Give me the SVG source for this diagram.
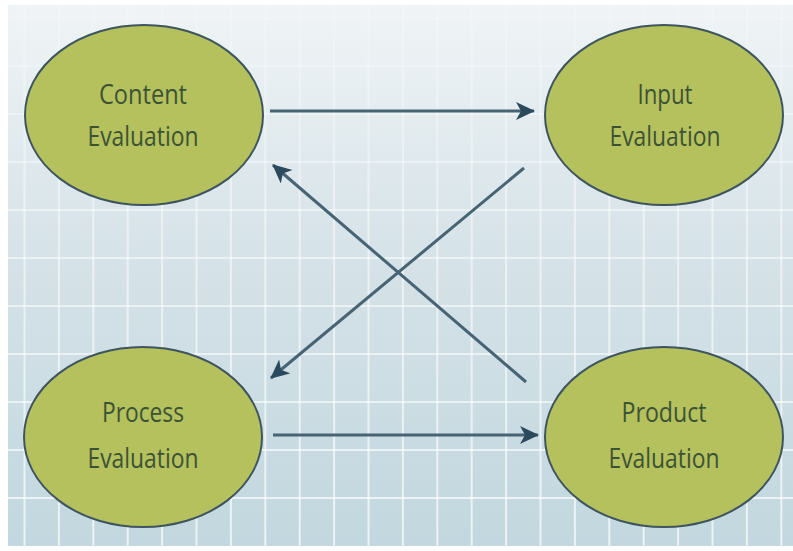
<svg xmlns="http://www.w3.org/2000/svg" width="793" height="551" viewBox="0 0 793 551">
<defs>
<linearGradient id="bg" x1="0" y1="0" x2="0" y2="1">
<stop offset="0" stop-color="#f0f4f6"/>
<stop offset="0.45" stop-color="#d6e3e8"/>
<stop offset="1" stop-color="#c2d7df"/>
</linearGradient>
<linearGradient id="gridfade" gradientUnits="userSpaceOnUse" x1="0" y1="0" x2="0" y2="551">
<stop offset="0" stop-color="#ffffff" stop-opacity="0.15"/>
<stop offset="0.4" stop-color="#ffffff" stop-opacity="0.5"/>
<stop offset="1" stop-color="#ffffff" stop-opacity="0.7"/>
</linearGradient>
<marker id="arr" markerUnits="userSpaceOnUse" markerWidth="20" markerHeight="20" refX="18" refY="9" orient="auto">
<path d="M0,0 L19,9 L0,18 L5,9 z" fill="#2c4a5e"/>
</marker>
<style>
.node ellipse{fill:#b4c15c;stroke:#3e5560;stroke-width:2}
.node text{font-family:"Open Sans","DejaVu Sans",sans-serif;font-size:27px;fill:#3c5236;text-anchor:middle}
.conn line{stroke:#476474;stroke-width:3;marker-end:url(#arr)}
.grid line{stroke:url(#gridfade);stroke-width:2}
</style>
</defs>
<rect x="0" y="0" width="793" height="551" fill="#ffffff"/>
<rect x="8" y="5" width="785" height="541" fill="url(#bg)"/>
<g class="grid">
<line x1="24.5" y1="5" x2="24.5" y2="546"/>
<line x1="58.9" y1="5" x2="58.9" y2="546"/>
<line x1="93.3" y1="5" x2="93.3" y2="546"/>
<line x1="127.7" y1="5" x2="127.7" y2="546"/>
<line x1="162.1" y1="5" x2="162.1" y2="546"/>
<line x1="196.5" y1="5" x2="196.5" y2="546"/>
<line x1="230.9" y1="5" x2="230.9" y2="546"/>
<line x1="265.3" y1="5" x2="265.3" y2="546"/>
<line x1="299.7" y1="5" x2="299.7" y2="546"/>
<line x1="334.1" y1="5" x2="334.1" y2="546"/>
<line x1="368.5" y1="5" x2="368.5" y2="546"/>
<line x1="402.9" y1="5" x2="402.9" y2="546"/>
<line x1="437.3" y1="5" x2="437.3" y2="546"/>
<line x1="471.7" y1="5" x2="471.7" y2="546"/>
<line x1="506.1" y1="5" x2="506.1" y2="546"/>
<line x1="540.5" y1="5" x2="540.5" y2="546"/>
<line x1="574.9" y1="5" x2="574.9" y2="546"/>
<line x1="609.3" y1="5" x2="609.3" y2="546"/>
<line x1="643.7" y1="5" x2="643.7" y2="546"/>
<line x1="678.1" y1="5" x2="678.1" y2="546"/>
<line x1="712.5" y1="5" x2="712.5" y2="546"/>
<line x1="746.9" y1="5" x2="746.9" y2="546"/>
<line x1="781.3" y1="5" x2="781.3" y2="546"/>
<line x1="8" y1="18" x2="793" y2="18"/>
<line x1="8" y1="66" x2="793" y2="66"/>
<line x1="8" y1="114" x2="793" y2="114"/>
<line x1="8" y1="162" x2="793" y2="162"/>
<line x1="8" y1="210" x2="793" y2="210"/>
<line x1="8" y1="258" x2="793" y2="258"/>
<line x1="8" y1="306" x2="793" y2="306"/>
<line x1="8" y1="354" x2="793" y2="354"/>
<line x1="8" y1="402" x2="793" y2="402"/>
<line x1="8" y1="450" x2="793" y2="450"/>
<line x1="8" y1="498" x2="793" y2="498"/>
</g>
<g id="connectors" class="conn">
<line x1="270" y1="111" x2="534" y2="111"/>
<line x1="273" y1="435" x2="538" y2="435"/>
<line x1="526" y1="382" x2="273" y2="165"/>
<line x1="524" y1="168" x2="271" y2="378"/>
</g>
<g id="content-evaluation" class="node">
<ellipse cx="144" cy="115" rx="119" ry="90"/>
<text x="143" y="104" textLength="88" lengthAdjust="spacingAndGlyphs">Content</text>
<text x="143" y="146" textLength="111" lengthAdjust="spacingAndGlyphs">Evaluation</text>
</g>
<g id="input-evaluation" class="node">
<ellipse cx="664" cy="115" rx="119" ry="90"/>
<text x="665" y="104" textLength="55" lengthAdjust="spacingAndGlyphs">Input</text>
<text x="665" y="146" textLength="111" lengthAdjust="spacingAndGlyphs">Evaluation</text>
</g>
<g id="process-evaluation" class="node">
<ellipse cx="143" cy="437" rx="119" ry="90"/>
<text x="143" y="422" textLength="82" lengthAdjust="spacingAndGlyphs">Process</text>
<text x="143" y="468" textLength="111" lengthAdjust="spacingAndGlyphs">Evaluation</text>
</g>
<g id="product-evaluation" class="node">
<ellipse cx="664" cy="437" rx="119" ry="90"/>
<text x="664" y="422" textLength="85" lengthAdjust="spacingAndGlyphs">Product</text>
<text x="664" y="468" textLength="111" lengthAdjust="spacingAndGlyphs">Evaluation</text>
</g>
</svg>
